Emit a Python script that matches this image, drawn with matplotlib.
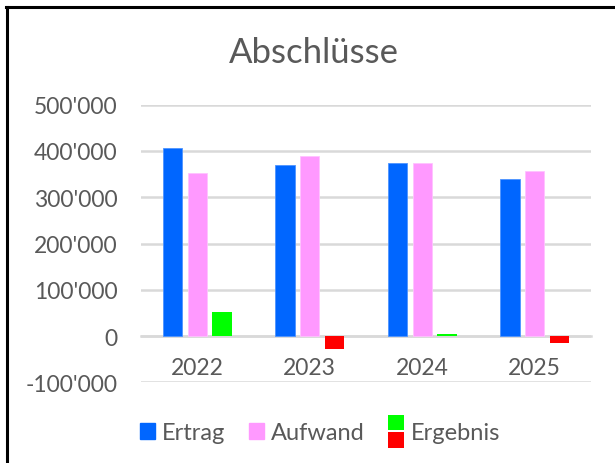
import matplotlib
matplotlib.use("Agg")
import matplotlib.pyplot as plt
import numpy as np
from matplotlib.patches import Rectangle
from matplotlib.lines import Line2D
from matplotlib.legend_handler import HandlerBase
from matplotlib.ticker import FuncFormatter

# Daten
jahre = ["2022", "2023", "2024", "2025"]
ertrag = [407000, 370000, 373000, 340000]
aufwand = [353000, 390000, 373000, 357000]
ergebnis = [52000, -27000, 5000, -16000]

BLAU = "#0066FF"
ROSA = "#FF99FF"
GRUEN = "#00FF00"
ROT = "#FF0000"
GRAU = "#595959"

plt.rcParams["font.family"] = ["Lato", "DejaVu Sans"]


class ZweiFarbenHandler(HandlerBase):
    # zwei Quadrate übereinander für das Ergebnis
    def create_artists(self, legend, orig_handle, xdescent, ydescent,
                       width, height, fontsize, trans):
        s = height * 1.0
        x0 = xdescent + width - s
        oben = Rectangle((x0, height / 2 + 1.0), s, s, facecolor=GRUEN,
                         edgecolor="none", transform=trans)
        unten = Rectangle((x0, height / 2 - s - 0.5), s, s, facecolor=ROT,
                          edgecolor="none", transform=trans)
        return [oben, unten]


fig = plt.figure(figsize=(6.15, 4.64), dpi=100)
ax = fig.add_axes([141 / 615, 1 - 383.3 / 464, 450 / 615, 277.6 / 464])

x = np.arange(len(jahre))
b = 0.172
step = 0.22
ax.bar(x - step, ertrag, b, color=BLAU, edgecolor="#4d94ff", linewidth=0.6, zorder=3)
ax.bar(x, aufwand, b, color=ROSA, edgecolor="#ffc2ff", linewidth=0.6, zorder=3)
erg_farben = [GRUEN if v >= 0 else ROT for v in ergebnis]
ax.bar(x + step, ergebnis, b, color=erg_farben, linewidth=0, zorder=3)

ax.set_xlim(-0.5, len(jahre) - 0.5)
ax.set_ylim(-100000, 500000)
ax.set_yticks(np.arange(-100000, 500001, 100000))
ax.yaxis.set_major_formatter(FuncFormatter(lambda v, p: f"{int(v):,}".replace(",", "'")))
ax.grid(axis="y", color="#d9d9d9", linewidth=1.8, zorder=0)
ax.set_xticks(x)
ax.set_xticklabels(jahre)

for s in ["top", "right", "left"]:
    ax.spines[s].set_visible(False)
ax.spines["bottom"].set_position(("data", 0))
ax.spines["bottom"].set_color("#d9d9d9")
ax.spines["bottom"].set_linewidth(1.8)
ax.tick_params(axis="y", length=0, pad=17, labelsize=16.5, labelcolor=GRAU)
ax.tick_params(axis="x", length=0, pad=15, labelsize=16.5, labelcolor=GRAU)

fig.text(313.5 / 615, 1 - 63.3 / 464, "Abschlüsse", ha="center", va="baseline",
         fontsize=25, color=GRAU)

handles = [Rectangle((0, 0), 1, 1, color=BLAU),
           Rectangle((0, 0), 1, 1, color=ROSA),
           Rectangle((0, 0), 1, 1, color=GRUEN)]
leg = fig.legend(handles, ["Ertrag", "Aufwand", "Ergebnis"], loc="center",
                 bbox_to_anchor=(320 / 615, 1 - 434 / 464), ncol=3, frameon=False,
                 fontsize=17, labelcolor=GRAU, handlelength=0.64, handleheight=0.64,
                 handletextpad=0.3, columnspacing=1.0,
                 handler_map={handles[2]: ZweiFarbenHandler()})

# schwarzer Rahmen links und oben
fig.add_artist(Line2D([7 / 615, 7 / 615], [0, 1 - 8 / 464], color="black", linewidth=2.2))
fig.add_artist(Line2D([6 / 615, 1], [1 - 8 / 464, 1 - 8 / 464], color="black", linewidth=2.2))

fig.savefig("out.png", dpi=100)
